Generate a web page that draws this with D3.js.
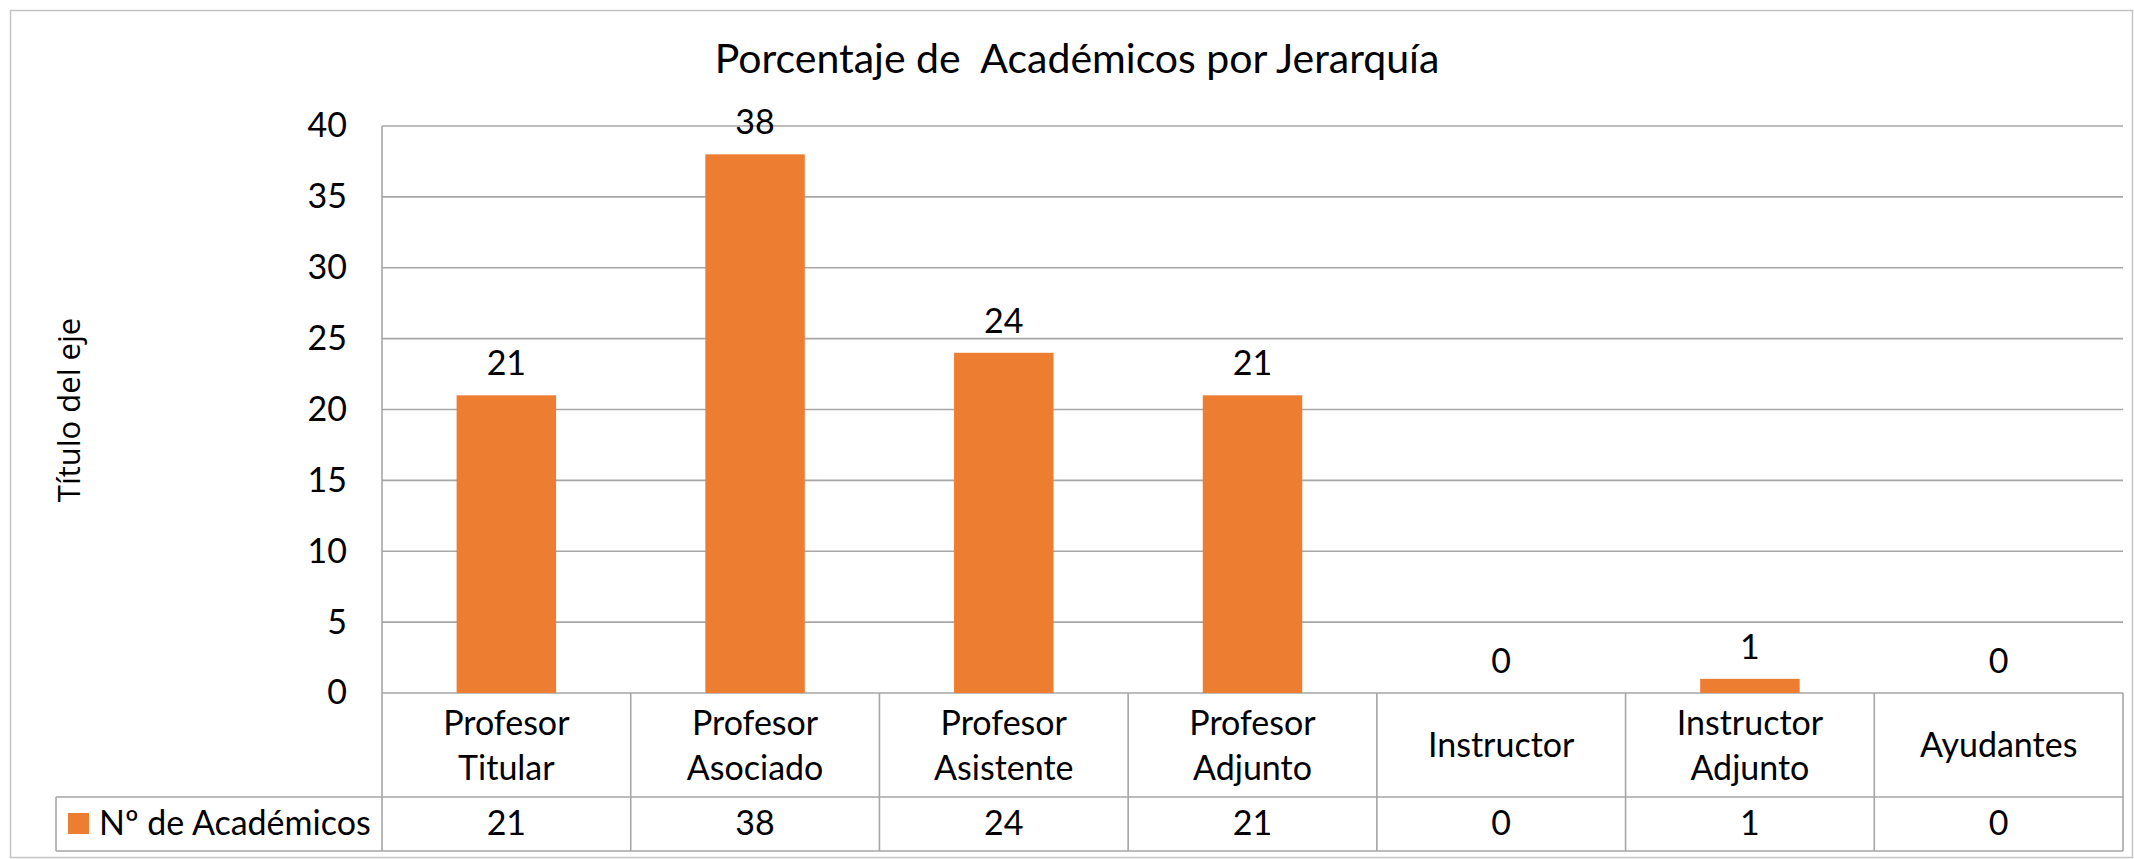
<!DOCTYPE html>
<html>
<head>
<meta charset="utf-8">
<script src="https://cdn.jsdelivr.net/npm/d3@7"></script>
<style>
  html, body { margin: 0; padding: 0; background: #fff; }
  svg { display: block; }
  text { font-family: Lato, "Noto Sans", sans-serif; fill: #000; }
</style>
</head>
<body>
<svg id="chart" width="2134" height="859"></svg>
<script>
// ---- data ----
const chartTitle = "Porcentaje de  Académicos por Jerarquía";
const yAxisTitle = "Título del eje";
const seriesName = "Nº de Académicos";
const categories = ["Profesor Titular", "Profesor Asociado", "Profesor Asistente", "Profesor Adjunto", "Instructor", "Instructor Adjunto", "Ayudantes"];
const values = [21, 38, 24, 21, 0, 1, 0];
const yTicks = [0, 5, 10, 15, 20, 25, 30, 35, 40];

// ---- layout ----
const W = 2134, H = 859;
const plot = { left: 382, right: 2123, top: 126, bottom: 693 };
const row1Bottom = 797, row2Bottom = 851, legendLeft = 56;
const barColor = "#ED7D31";
const gridColor = "#a6a6a6";
const fs = "34px";
const svg = d3.select("#chart");

// outer border
svg.append("rect").attr("x", 10.5).attr("y", 10.5).attr("width", 2122).attr("height", 847)
  .attr("fill", "#fff").attr("stroke", "#c4c4c4").attr("stroke-width", 1.5);

const x = d3.scaleBand().domain(categories).range([plot.left, plot.right]).paddingInner(0.6).paddingOuter(0.3);
const xCell = d3.scaleBand().domain(categories).range([plot.left, plot.right]).padding(0);
const y = d3.scaleLinear().domain([0, 40]).range([plot.bottom, plot.top]);

// gridlines
svg.append("g").selectAll("line").data(yTicks).join("line")
  .attr("x1", plot.left).attr("x2", plot.right)
  .attr("y1", d => y(d)).attr("y2", d => y(d))
  .attr("stroke", gridColor).attr("stroke-width", 1.6);

// y axis tick labels
const yAxis = d3.axisLeft(y).tickValues(yTicks).tickSize(0).tickPadding(35);
const gy = svg.append("g").attr("transform", `translate(${plot.left},0)`).call(yAxis);
gy.select(".domain").remove();
gy.selectAll("text").style("font-family", "Lato").style("font-size", fs).attr("fill", "#000");

// title
svg.append("text").attr("x", 1077).attr("y", 73).attr("text-anchor", "middle")
  .style("font-size", "41px").style("white-space", "pre").text(chartTitle);

// y axis title
svg.append("text").attr("transform", "translate(80,410) rotate(-90)").attr("text-anchor", "middle")
  .style("font-family", "'Open Sans'").style("font-size", "31px").text(yAxisTitle);

// bars
svg.append("g").selectAll("rect").data(categories).join("rect")
  .attr("x", d => x(d)).attr("width", x.bandwidth())
  .attr("y", (d, i) => y(values[i])).attr("height", (d, i) => y(0) - y(values[i]))
  .attr("fill", barColor);

// data labels
svg.append("g").selectAll("text").data(categories).join("text")
  .attr("x", d => x(d) + x.bandwidth() / 2).attr("y", (d, i) => y(values[i]) - 20)
  .attr("text-anchor", "middle").style("font-size", fs)
  .text((d, i) => values[i]);

// data table
const tg = svg.append("g").attr("stroke", gridColor).attr("stroke-width", 1.6);
xCell.domain().forEach(c => {
  tg.append("line").attr("x1", xCell(c)).attr("x2", xCell(c)).attr("y1", plot.bottom).attr("y2", row2Bottom);
});
tg.append("line").attr("x1", plot.right).attr("x2", plot.right).attr("y1", plot.bottom).attr("y2", row2Bottom);
tg.append("line").attr("x1", plot.left).attr("x2", plot.left).attr("y1", plot.top).attr("y2", plot.bottom);
tg.append("line").attr("x1", legendLeft).attr("x2", plot.right).attr("y1", row1Bottom).attr("y2", row1Bottom);
tg.append("line").attr("x1", legendLeft).attr("x2", plot.right).attr("y1", row2Bottom).attr("y2", row2Bottom);
tg.append("line").attr("x1", legendLeft).attr("x2", legendLeft).attr("y1", row1Bottom).attr("y2", row2Bottom);

// category labels
const rowMid = (plot.bottom + row1Bottom) / 2;
categories.forEach(c => {
  const words = c.split(" ");
  const n = words.length;
  const t = svg.append("text").attr("text-anchor", "middle").style("font-size", fs);
  words.forEach((w, i) => {
    t.append("tspan").attr("x", xCell(c) + xCell.bandwidth() / 2)
      .attr("y", rowMid + 12 + (i - (n - 1) / 2) * 45).text(w);
  });
});

// value row
svg.append("g").selectAll("text").data(categories).join("text")
  .attr("x", d => xCell(d) + xCell.bandwidth() / 2).attr("y", 835)
  .attr("text-anchor", "middle").style("font-size", fs)
  .text((d, i) => values[i]);

// legend key in table
svg.append("rect").attr("x", 68).attr("y", 813).attr("width", 21).attr("height", 21).attr("fill", barColor);
svg.append("text").attr("x", 99).attr("y", 835).style("font-size", fs).text(seriesName);
</script>
</body>
</html>
